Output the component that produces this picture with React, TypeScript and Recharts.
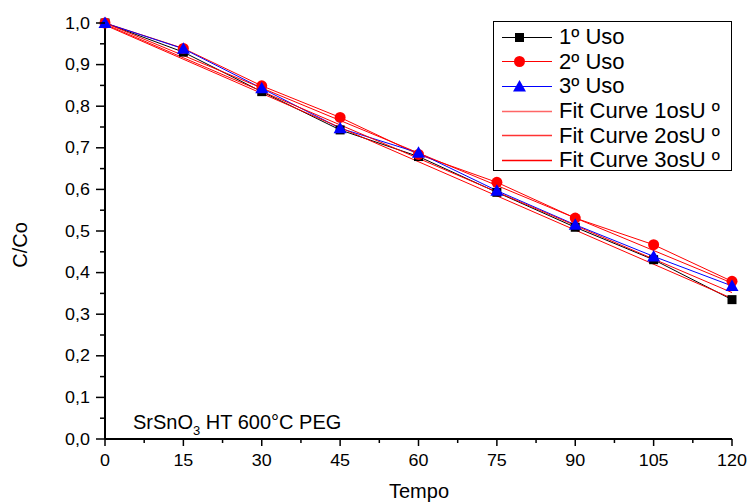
import React from 'react';
import { LineChart, Line, XAxis, YAxis, Legend, Customized } from 'recharts';

// tempo (x) and C/Co for each use
const tempo = [0, 15, 30, 45, 60, 75, 90, 105, 120];
const uso1 = [1.0, 0.93, 0.835, 0.743, 0.679, 0.593, 0.509, 0.431, 0.335];
const uso2 = [1.0, 0.939, 0.849, 0.773, 0.684, 0.617, 0.531, 0.467, 0.379];
const uso3 = [1.0, 0.938, 0.843, 0.747, 0.688, 0.597, 0.515, 0.439, 0.368];

// linear fit lines, read at both ends
const fitTempo = [0, 120];
const fit1 = [0.995, 0.338];
const fit2 = [1.0, 0.375];
const fit3 = [0.997, 0.352];

const xTicks = [0, 7.5, 15, 22.5, 30, 37.5, 45, 52.5, 60, 67.5, 75, 82.5, 90, 97.5, 105, 112.5, 120];
const yTicks = [0, 0.05, 0.1, 0.15, 0.2, 0.25, 0.3, 0.35, 0.4, 0.45, 0.5, 0.55, 0.6, 0.65, 0.7, 0.75, 0.8, 0.85, 0.9, 0.95, 1.0];

const seriesNames = ['1º Uso', '2º Uso', '3º Uso', 'Fit Curve 1osU º', 'Fit Curve 2osU º', 'Fit Curve 3osU º'];

const usoData = tempo.map((t, i) => ({ tempo: t, uso1: uso1[i], uso2: uso2[i], uso3: uso3[i] }));
const fitData = fitTempo.map((t, i) => ({ tempo: t, fit1: fit1[i], fit2: fit2[i], fit3: fit3[i] }));

const FONT = '"Liberation Sans", Arial, sans-serif';

const SquareDot = (props: any) => {
  const { cx, cy } = props;
  if (cx == null || cy == null) return null;
  return <rect x={cx - 4.5} y={cy - 4.5} width={9} height={9} fill="#000" />;
};
const CircleDot = (props: any) => {
  const { cx, cy } = props;
  if (cx == null || cy == null) return null;
  return <circle cx={cx} cy={cy} r={5.5} fill="#ff0000" />;
};
const TriangleDot = (props: any) => {
  const { cx, cy } = props;
  if (cx == null || cy == null) return null;
  return <polygon points={`${cx},${cy - 6.5} ${cx + 6.5},${cy + 5} ${cx - 6.5},${cy + 5}`} fill="#0000ff" />;
};

// tick text in the original is a bit wider than Arial, so stretch it slightly
const TickText = ({ x, y, anchor, children }: any) => (
  <g transform={`translate(${x},${y}) scale(1.12,1)`}>
    <text x={0} y={0} textAnchor={anchor} fontSize={16} fontFamily={FONT} fill="#000">
      {children}
    </text>
  </g>
);

const XTick = ({ x, y, payload }: any) => {
  const major = payload.value % 15 === 0;
  return (
    <g>
      <line x1={x} y1={y} x2={x} y2={y + (major ? 7 : 4)} stroke="#000" strokeWidth={1.5} />
      {major && (
        <TickText x={x} y={y + 27} anchor="middle">
          {payload.value}
        </TickText>
      )}
    </g>
  );
};

const TopTick = ({ x, y, payload }: any) => {
  const major = payload.value % 15 === 0;
  return <line x1={x} y1={y} x2={x} y2={y - (major ? 4 : 3)} stroke="#000" strokeWidth={1.5} />;
};

const YTick = ({ x, y, payload }: any) => {
  const major = Math.round(payload.value * 100) % 10 === 0;
  return (
    <g>
      <line x1={x} y1={y} x2={x - (major ? 9 : 5)} y2={y} stroke="#000" strokeWidth={1.5} />
      {major && (
        <TickText x={x - 15} y={y + 5.5} anchor="end">
          {payload.value.toFixed(1).replace('.', ',')}
        </TickText>
      )}
    </g>
  );
};

const markerFor = (i: number) => {
  if (i === 0) return <rect x={21} y={6} width={9} height={9} fill="#000" />;
  if (i === 1) return <circle cx={25.5} cy={10.5} r={5.5} fill="#ff0000" />;
  if (i === 2) return <polygon points="25.5,4 32,15.5 19,15.5" fill="#0000ff" />;
  return null;
};

const lineColors = ['#000', '#ff0000', '#0000ff', '#ff6666', '#ff3333', '#ff0000'];

const LegendBox = () => (
  <div
    style={{
      border: '1px solid #000',
      background: '#fff',
      width: 239,
      height: 150,
      boxSizing: 'border-box',
      paddingTop: 3,
      fontFamily: FONT,
      fontSize: 22,
      color: '#000',
    }}
  >
    {seriesNames.map((name, i) => (
      <div key={name} style={{ height: 24.6, display: 'flex', alignItems: 'center', whiteSpace: 'nowrap' }}>
        <svg width={65} height={21} style={{ flex: 'none' }}>
          <line x1={8} y1={10.5} x2={58} y2={10.5} stroke={lineColors[i]} strokeWidth={i > 2 ? 1.5 : 1} />
          {markerFor(i)}
        </svg>
        <span>{name}</span>
      </div>
    ))}
  </div>
);

const Annotations = () => (
  <g fontFamily={FONT} fill="#000">
    <text x={419} y={498} textAnchor="middle" fontSize={20}>
      Tempo
    </text>
    <text x={27} y={245} textAnchor="middle" fontSize={20} transform="rotate(-90, 27, 245)">
      C/Co
    </text>
    <text x={133} y={429} fontSize={20}>
      <tspan>SrSnO</tspan>
      <tspan dy={6} fontSize={13}>3</tspan>
      <tspan dy={-6}> HT 600°C PEG</tspan>
    </text>
  </g>
);

export default function App() {
  return (
    <div style={{ position: 'absolute', left: 0, top: 0, background: '#fff' }}>
      <LineChart width={749} height={502} data={usoData} margin={{ top: 23, right: 17, bottom: 0, left: 0 }}>
        <XAxis
          dataKey="tempo"
          type="number"
          domain={[0, 120]}
          ticks={xTicks}
          interval={0}
          height={63}
          tickSize={0}
          tickMargin={0}
          tickLine={false}
          tick={<XTick />}
          axisLine={{ stroke: '#000', strokeWidth: 2 }}
        />
        <XAxis
          xAxisId="top"
          orientation="top"
          dataKey="tempo"
          type="number"
          domain={[0, 120]}
          ticks={xTicks}
          interval={0}
          height={0}
          tickSize={0}
          tickMargin={0}
          tickLine={false}
          tick={<TopTick />}
          axisLine={{ stroke: '#000', strokeWidth: 2 }}
        />
        <YAxis
          type="number"
          domain={[0, 1]}
          ticks={yTicks}
          interval={0}
          width={105}
          tickSize={0}
          tickMargin={0}
          tickLine={false}
          tick={<YTick />}
          axisLine={{ stroke: '#000', strokeWidth: 2 }}
        />
        <YAxis
          yAxisId="right"
          orientation="right"
          type="number"
          domain={[0, 1]}
          width={0}
          tick={false}
          tickLine={false}
          axisLine={{ stroke: '#000', strokeWidth: 2 }}
        />
        <Line dataKey="uso1" name={seriesNames[0]} stroke="#000" strokeWidth={1} dot={<SquareDot />} isAnimationActive={false} />
        <Line dataKey="uso2" name={seriesNames[1]} stroke="#ff0000" strokeWidth={1} dot={<CircleDot />} isAnimationActive={false} />
        <Line dataKey="uso3" name={seriesNames[2]} stroke="#0000ff" strokeWidth={1} dot={<TriangleDot />} isAnimationActive={false} />
        <Line data={fitData} dataKey="fit1" name={seriesNames[3]} stroke="#ff0000" strokeWidth={1} dot={false} isAnimationActive={false} />
        <Line data={fitData} dataKey="fit2" name={seriesNames[4]} stroke="#ff0000" strokeWidth={1} dot={false} isAnimationActive={false} />
        <Line data={fitData} dataKey="fit3" name={seriesNames[5]} stroke="#ff0000" strokeWidth={1} dot={false} isAnimationActive={false} />
        <Legend
          layout="vertical"
          align="center"
          verticalAlign="middle"
          width={239}
          wrapperStyle={{ top: 21, left: 493, width: 239 }}
          content={() => <LegendBox />}
        />
        <Customized component={Annotations} />
      </LineChart>
    </div>
  );
}
